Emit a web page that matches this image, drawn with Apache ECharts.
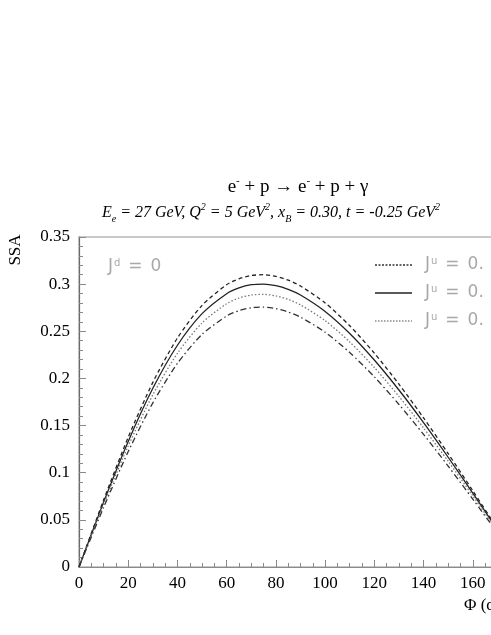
<!DOCTYPE html>
<html>
<head>
<meta charset="utf-8">
<script src="https://cdn.jsdelivr.net/npm/echarts@6/dist/echarts.min.js"></script>
<style>
html, body { margin: 0; padding: 0; overflow: hidden; background: #fff; }
#main { width: 600px; height: 635px; }
</style>
</head>
<body>
<div id="main"></div>
<script>
// Φ in degrees
var phi = [0, 10, 20, 30, 40, 50, 60, 65, 70, 75, 80, 85, 90, 100, 110, 120, 130, 140, 150, 160, 170, 180];
// SSA curves
var ssaDashed  = [0, 0.0710, 0.1376, 0.1958, 0.2429, 0.2775, 0.2994, 0.3057, 0.3092, 0.3100, 0.3082, 0.3042, 0.2980, 0.2801, 0.2559, 0.2268, 0.1939, 0.1581, 0.1203, 0.0809, 0.0407, 0];
var ssaSolid   = [0, 0.0688, 0.1332, 0.1895, 0.2352, 0.2687, 0.2899, 0.2960, 0.2994, 0.3001, 0.2984, 0.2945, 0.2885, 0.2711, 0.2477, 0.2195, 0.1877, 0.1531, 0.1164, 0.0784, 0.0394, 0];
var ssaDotted  = [0, 0.0663, 0.1284, 0.1826, 0.2266, 0.2589, 0.2793, 0.2852, 0.2885, 0.2892, 0.2875, 0.2838, 0.2780, 0.2613, 0.2387, 0.2116, 0.1809, 0.1475, 0.1122, 0.0755, 0.0379, 0];
var ssaDashDot = [0, 0.0632, 0.1224, 0.1741, 0.2160, 0.2468, 0.2662, 0.2719, 0.2750, 0.2757, 0.2741, 0.2705, 0.2650, 0.2490, 0.2275, 0.2017, 0.1724, 0.1406, 0.1070, 0.0720, 0.0362, 0];

var xTicks = { min: 0, max: 180, interval: 20 };
var yTicks = { min: 0, max: 0.35, interval: 0.05 };

var serif = '"Liberation Serif", "DejaVu Serif", serif';
var sans = '"DejaVu Sans", sans-serif';
var grey = '#a8a8a8';

function pairs(ys){
	return phi.map(function(p, i){ return [p, ys[i]]; });
}

function curve(name, ys, color, type){
	return {
		name: name,
		type: 'line',
		data: pairs(ys),
		smooth: 0.25,
		showSymbol: false,
		silent: true,
		lineStyle: { color: color, width: 1.3, type: type }
	};
}

// little J label with superscript
function jLabel(x, y, sup, tail){
	return {
		type: 'text',
		x: x, y: y,
		style: {
			text: 'J{s|' + sup + '}{g|=}{g|' + tail + '}',
			font: '17px ' + sans,
			fill: grey,
			verticalAlign: 'middle',
			rich: {
				s: { fontSize: 10, fontFamily: sans, fill: grey, verticalAlign: 'top', lineHeight: 18, padding: [0, 0, 0, 1] },
				g: { fontSize: 17, fontFamily: sans, fill: grey, padding: [0, 0, 0, 8] }
			}
		}
	};
}

// legend entries drawn by hand (label is cut by the page edge)
function legendRow(y, dash, color){
	return [{
		type: 'line',
		shape: { x1: 375, y1: y, x2: 412, y2: y },
		style: { stroke: color, lineWidth: 1.3, lineDash: dash }
	}, jLabel(425, y, 'u', '0.')];
}

var myChart = echarts.init(document.getElementById('main'));
var option = {
	animation: false,
	grid: {
		left: 79, top: 237, width: 443, height: 330,
		show: true, borderColor: '#b8b8b8', borderWidth: 1.5, backgroundColor: 'transparent'
	},
	xAxis: {
		type: 'value',
		min: xTicks.min, max: xTicks.max, interval: xTicks.interval,
		axisLine: { lineStyle: { color: '#8a8a8a', width: 1.2 } },
		axisTick: { inside: true, length: 7, lineStyle: { color: '#8a8a8a' } },
		minorTick: { show: true, splitNumber: 4, length: 4, lineStyle: { color: '#8a8a8a' } },
		splitLine: { show: false },
		axisLabel: { color: '#000', fontFamily: serif, fontSize: 17, margin: 8 }
	},
	yAxis: {
		type: 'value',
		min: yTicks.min, max: yTicks.max, interval: yTicks.interval,
		axisLine: { show: true, lineStyle: { color: '#6a6a6a', width: 1.2 } },
		axisTick: { inside: true, length: 7, lineStyle: { color: '#8a8a8a' } },
		minorTick: { show: true, splitNumber: 5, length: 4, lineStyle: { color: '#8a8a8a' } },
		splitLine: { show: false },
		axisLabel: { color: '#000', fontFamily: serif, fontSize: 17, margin: 9 }
	},
	series: [
		curve('dashed', ssaDashed, '#222', [4, 3]),
		curve('solid', ssaSolid, '#222', 'solid'),
		curve('dotted', ssaDotted, '#777', [1.5, 2]),
		curve('dashdot', ssaDashDot, '#333', [6, 3, 1.5, 3])
	],
	graphic: [
		{
			type: 'text', x: 298, y: 187,
			style: {
				text: 'e{s|-} + p \u2192 e{s|-} + p + \u03b3',
				font: '19px ' + serif, fill: '#000',
				align: 'center', verticalAlign: 'middle',
				rich: { s: { fontSize: 11, fontFamily: serif, verticalAlign: 'top', lineHeight: 22 } }
			}
		},
		{
			type: 'text', x: 271, y: 213,
			style: {
				text: 'E{b|e} = 27 GeV, Q{s|2} = 5 GeV{s|2}, x{b|B} = 0.30, t = -0.25 GeV{s|2}',
				font: 'italic 16px ' + serif, fill: '#000',
				align: 'center', verticalAlign: 'middle',
				rich: {
					s: { fontSize: 10, fontStyle: 'italic', fontFamily: serif, verticalAlign: 'top', lineHeight: 22 },
					b: { fontSize: 10, fontStyle: 'italic', fontFamily: serif, verticalAlign: 'bottom', lineHeight: 22 }
				}
			}
		},
		{
			type: 'text', x: 16, y: 250, rotation: Math.PI / 2,
			style: { text: 'SSA', font: '17px ' + serif, fill: '#000', align: 'center', verticalAlign: 'middle' }
		},
		{
			type: 'text', x: 464, y: 606,
			style: { text: '\u03a6 (deg)', font: '17px ' + serif, fill: '#000', verticalAlign: 'middle' }
		},
		jLabel(108, 267, 'd', '0')
	].concat(legendRow(265, [2, 1.5], '#333'), legendRow(293, null, '#222'), legendRow(321, [1.5, 1.5], '#888'))
};
myChart.setOption(option);
</script>
</body>
</html>
